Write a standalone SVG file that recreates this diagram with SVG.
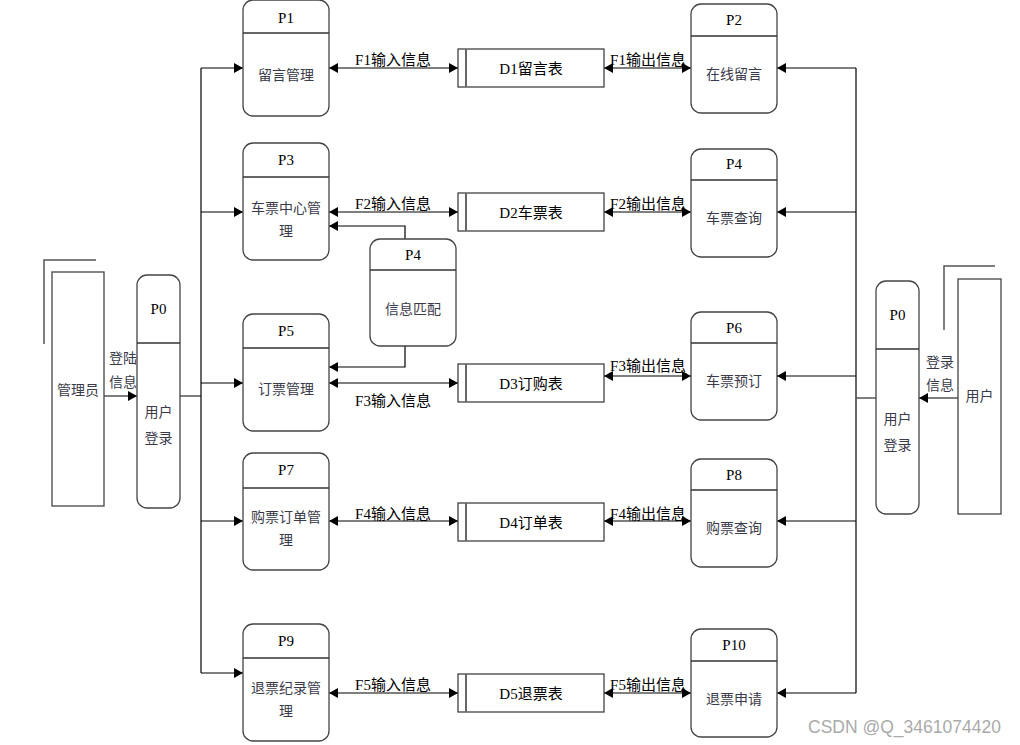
<svg xmlns="http://www.w3.org/2000/svg" width="1020" height="745" viewBox="0 0 1020 745">
<style>
.proc{fill:#fff;stroke:#444;stroke-width:1.3}
.div{stroke:#333;stroke-width:1.5}
.store{fill:#fff;stroke:#333;stroke-width:1.2}
.sline{stroke:#666;stroke-width:2}
.ent{fill:#fff;stroke:#444;stroke-width:1.3}
.bar{fill:none;stroke:#555;stroke-width:1.5}
.t{font-family:"Liberation Serif","Noto Sans CJK SC",serif;font-size:15px;fill:#000;text-anchor:middle}
.c{font-family:"Liberation Serif","Noto Sans CJK SC",serif;font-size:14px;fill:#3a3a4a;text-anchor:middle}
.ln{fill:none;stroke:#000;stroke-width:1.2}
.gl{fill:none;stroke:#555;stroke-width:1.5}
.wm{font-family:"Liberation Sans",sans-serif;font-size:17.5px;fill:#aaa}
</style>
<defs>
<marker id="ah" markerWidth="10" markerHeight="10" refX="9" refY="5" orient="auto-start-reverse" markerUnits="userSpaceOnUse">
<path d="M0,0 L9,5 L0,10 z" fill="#000"/>
</marker>
</defs>
<rect width="1020" height="745" fill="#fff"/>

<g id="connectors">
<line class="ln" x1="104" y1="396" x2="137" y2="396" marker-end="url(#ah)"/>
<line class="gl" x1="180" y1="396" x2="201" y2="396"/>
<line class="ln" x1="201" y1="68" x2="201" y2="673"/>
<line class="ln" x1="201" y1="68" x2="243" y2="68" marker-end="url(#ah)"/>
<line class="ln" x1="201" y1="212" x2="243" y2="212" marker-end="url(#ah)"/>
<line class="ln" x1="201" y1="383" x2="243" y2="383" marker-end="url(#ah)"/>
<line class="ln" x1="201" y1="521" x2="243" y2="521" marker-end="url(#ah)"/>
<line class="ln" x1="201" y1="673" x2="243" y2="673" marker-end="url(#ah)"/>

<line class="ln" x1="329" y1="68" x2="458" y2="68" marker-start="url(#ah)" marker-end="url(#ah)"/>
<line class="ln" x1="329" y1="212" x2="458" y2="212" marker-start="url(#ah)" marker-end="url(#ah)"/>
<line class="ln" x1="329" y1="383" x2="458" y2="383" marker-start="url(#ah)" marker-end="url(#ah)"/>
<line class="ln" x1="329" y1="521" x2="458" y2="521" marker-start="url(#ah)" marker-end="url(#ah)"/>
<line class="ln" x1="329" y1="693" x2="458" y2="693" marker-start="url(#ah)" marker-end="url(#ah)"/>

<line class="ln" x1="604" y1="68" x2="691" y2="68" marker-start="url(#ah)" marker-end="url(#ah)"/>
<line class="ln" x1="604" y1="212" x2="691" y2="212" marker-start="url(#ah)" marker-end="url(#ah)"/>
<line class="ln" x1="604" y1="376" x2="691" y2="376" marker-start="url(#ah)" marker-end="url(#ah)"/>
<line class="ln" x1="604" y1="521" x2="691" y2="521" marker-start="url(#ah)" marker-end="url(#ah)"/>
<line class="ln" x1="604" y1="693" x2="691" y2="693" marker-start="url(#ah)" marker-end="url(#ah)"/>

<polyline class="ln" points="405,239 405,226 329,226" marker-end="url(#ah)"/>
<polyline class="ln" points="405,346 405,367 329,367" marker-end="url(#ah)"/>

<line class="ln" x1="856" y1="68" x2="856" y2="693"/>
<line class="ln" x1="856" y1="68" x2="777" y2="68" marker-end="url(#ah)"/>
<line class="ln" x1="856" y1="212" x2="777" y2="212" marker-end="url(#ah)"/>
<line class="ln" x1="856" y1="376" x2="777" y2="376" marker-end="url(#ah)"/>
<line class="ln" x1="856" y1="521" x2="777" y2="521" marker-end="url(#ah)"/>
<line class="ln" x1="856" y1="693" x2="777" y2="693" marker-end="url(#ah)"/>
<line class="gl" x1="876" y1="398" x2="856" y2="398"/>
<line class="ln" x1="958" y1="398" x2="919" y2="398" marker-end="url(#ah)"/>

<text class="t" x="393" y="65">F1输入信息</text>
<text class="t" x="393" y="209">F2输入信息</text>
<text class="t" x="393" y="406">F3输入信息</text>
<text class="t" x="393" y="519">F4输入信息</text>
<text class="t" x="393" y="690">F5输入信息</text>
<text class="t" x="648" y="65">F1输出信息</text>
<text class="t" x="648" y="209">F2输出信息</text>
<text class="t" x="648" y="371">F3输出信息</text>
<text class="t" x="648" y="519">F4输出信息</text>
<text class="t" x="648" y="690">F5输出信息</text>
<text class="c" x="123" y="363">登陆</text>
<text class="c" x="123" y="387">信息</text>
<text class="c" x="940" y="367">登录</text>
<text class="c" x="940" y="390">信息</text>
</g>

<g id="admin">
<polyline class="bar" points="44,344 44,260 96,260"/>
<rect class="ent" x="52" y="272" width="52" height="234"/>
<text class="c" x="78" y="395">管理员</text>
</g>

<g id="P0-left">
<rect class="proc" x="137" y="275" width="43" height="233" rx="10"/>
<line class="div" x1="137" y1="343" x2="180" y2="343"/>
<text class="t" x="158.5" y="314">P0</text>
<text class="c" x="158.5" y="417">用户</text>
<text class="c" x="158.5" y="443">登录</text>
</g>

<g id="P1">
<rect class="proc" x="243" y="0" width="86" height="116" rx="10"/>
<line class="div" x1="243" y1="33" x2="329" y2="33"/>
<text class="t" x="286" y="23">P1</text>
<text class="c" x="286" y="80">留言管理</text>
</g>
<g id="P3">
<rect class="proc" x="243" y="143" width="86" height="117" rx="10"/>
<line class="div" x1="243" y1="177" x2="329" y2="177"/>
<text class="t" x="286" y="165">P3</text>
<text class="c" x="286" y="213">车票中心管</text>
<text class="c" x="286" y="236">理</text>
</g>
<g id="P5">
<rect class="proc" x="243" y="314" width="86" height="117" rx="10"/>
<line class="div" x1="243" y1="348" x2="329" y2="348"/>
<text class="t" x="286" y="336">P5</text>
<text class="c" x="286" y="394">订票管理</text>
</g>
<g id="P7">
<rect class="proc" x="243" y="453" width="86" height="117" rx="10"/>
<line class="div" x1="243" y1="488" x2="329" y2="488"/>
<text class="t" x="286" y="475">P7</text>
<text class="c" x="286" y="522">购票订单管</text>
<text class="c" x="286" y="545">理</text>
</g>
<g id="P9">
<rect class="proc" x="243" y="624" width="86" height="117" rx="10"/>
<line class="div" x1="243" y1="658" x2="329" y2="658"/>
<text class="t" x="286" y="646">P9</text>
<text class="c" x="286" y="693">退票纪录管</text>
<text class="c" x="286" y="716">理</text>
</g>

<g id="P4-mid">
<rect class="proc" x="370" y="239" width="86" height="107" rx="10"/>
<line class="div" x1="370" y1="270" x2="456" y2="270"/>
<text class="t" x="413" y="260">P4</text>
<text class="c" x="413" y="314">信息匹配</text>
</g>

<g id="D1">
<rect class="store" x="458" y="49" width="146" height="38"/>
<line class="sline" x1="466" y1="49" x2="466" y2="87"/>
<text class="t" x="531" y="74">D1留言表</text>
</g>
<g id="D2">
<rect class="store" x="458" y="193" width="146" height="38"/>
<line class="sline" x1="466" y1="193" x2="466" y2="231"/>
<text class="t" x="531" y="218">D2车票表</text>
</g>
<g id="D3">
<rect class="store" x="458" y="364" width="146" height="38"/>
<line class="sline" x1="466" y1="364" x2="466" y2="402"/>
<text class="t" x="531" y="389">D3订购表</text>
</g>
<g id="D4">
<rect class="store" x="458" y="503" width="146" height="38"/>
<line class="sline" x1="466" y1="503" x2="466" y2="541"/>
<text class="t" x="531" y="528">D4订单表</text>
</g>
<g id="D5">
<rect class="store" x="458" y="674" width="146" height="38"/>
<line class="sline" x1="466" y1="674" x2="466" y2="712"/>
<text class="t" x="531" y="699">D5退票表</text>
</g>

<g id="P2">
<rect class="proc" x="691" y="4" width="86" height="109" rx="10"/>
<line class="div" x1="691" y1="36" x2="777" y2="36"/>
<text class="t" x="734" y="25">P2</text>
<text class="c" x="734" y="79">在线留言</text>
</g>
<g id="P4-right">
<rect class="proc" x="691" y="149" width="86" height="108" rx="10"/>
<line class="div" x1="691" y1="180" x2="777" y2="180"/>
<text class="t" x="734" y="169">P4</text>
<text class="c" x="734" y="223">车票查询</text>
</g>
<g id="P6">
<rect class="proc" x="691" y="312" width="86" height="108" rx="10"/>
<line class="div" x1="691" y1="343" x2="777" y2="343"/>
<text class="t" x="734" y="333">P6</text>
<text class="c" x="734" y="386">车票预订</text>
</g>
<g id="P8">
<rect class="proc" x="691" y="459" width="86" height="108" rx="10"/>
<line class="div" x1="691" y1="490" x2="777" y2="490"/>
<text class="t" x="734" y="480">P8</text>
<text class="c" x="734" y="533">购票查询</text>
</g>
<g id="P10">
<rect class="proc" x="691" y="629" width="86" height="108" rx="10"/>
<line class="div" x1="691" y1="661" x2="777" y2="661"/>
<text class="t" x="734" y="650">P10</text>
<text class="c" x="734" y="704">退票申请</text>
</g>

<g id="P0-right">
<rect class="proc" x="876" y="281" width="43" height="233" rx="10"/>
<line class="div" x1="876" y1="349" x2="919" y2="349"/>
<text class="t" x="897.5" y="320">P0</text>
<text class="c" x="897.5" y="424">用户</text>
<text class="c" x="897.5" y="450">登录</text>
</g>

<g id="user">
<polyline class="bar" points="944,330 944,266 995,266"/>
<rect class="ent" x="958" y="279" width="43" height="235"/>
<text class="c" x="979.5" y="401">用户</text>
</g>

<text class="wm" x="808" y="733">CSDN @Q_3461074420</text>
</svg>
